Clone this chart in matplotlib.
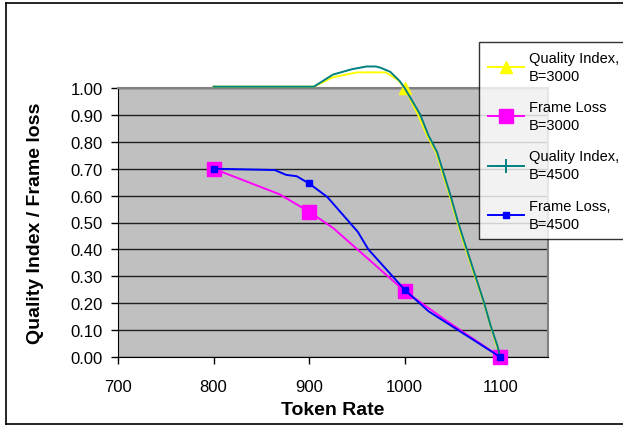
import matplotlib.pyplot as plt
from matplotlib.lines import Line2D

plt.rcParams['font.family'] = ['Liberation Sans', 'DejaVu Sans']

# Quality Index, B=3000
qi3000_x = [800, 905, 925, 950, 980, 993, 1000, 1014, 1024, 1033, 1048, 1056, 1065, 1083, 1090, 1100]
qi3000_y = [1.005, 1.005, 1.04, 1.058, 1.058, 1.03, 1.0, 0.90, 0.82, 0.76, 0.59, 0.49, 0.39, 0.20, 0.115, 0.0]

# Quality Index, B=4500
qi4500_x = [800, 905, 925, 945, 960, 970, 975, 985, 995, 1000, 1016, 1025, 1034, 1048, 1056, 1065, 1083, 1090, 1097, 1100]
qi4500_y = [1.005, 1.005, 1.05, 1.07, 1.08, 1.08, 1.075, 1.06, 1.025, 1.0, 0.903, 0.823, 0.761, 0.60, 0.50, 0.40, 0.203, 0.116, 0.042, 0.0]

# Frame Loss B=3000
fl3000_x = [800, 869, 900, 925, 1000, 1044, 1100]
fl3000_y = [0.70, 0.605, 0.54, 0.48, 0.245, 0.134, 0.0]

# Frame Loss, B=4500
fl4500_x = [800, 864, 876, 887, 900, 919, 951, 962, 1000, 1025, 1100]
fl4500_y = [0.70, 0.695, 0.677, 0.672, 0.645, 0.595, 0.465, 0.40, 0.25, 0.17, 0.0]

x_ticks = [700, 800, 900, 1000, 1100]
y_ticks = [0.0, 0.1, 0.2, 0.3, 0.4, 0.5, 0.6, 0.7, 0.8, 0.9, 1.0]

fig = plt.figure(figsize=(6.23, 4.27), dpi=100)
ax = fig.add_axes([118 / 623, 1 - 358 / 427, 430 / 623, 269 / 427])
ax.set_facecolor('#C0C0C0')

# outer chart border (left, top, bottom; right side runs off the picture)
for xs, ys in [([6, 6], [3.5, 425]), ([6, 623], [3.5, 3.5]), ([6, 623], [425, 425])]:
    fig.add_artist(Line2D([x / 623 for x in xs], [1 - y / 427 for y in ys],
                          transform=fig.transFigure, color='black', lw=1.2))

ax.plot(qi3000_x, qi3000_y, color='#FFFF00', lw=1.4, clip_on=False, zorder=3)
ax.plot([1000], [1.0], ls='none', marker='^', color='#FFFF00', ms=9, clip_on=False, zorder=4)
ax.plot(fl3000_x, fl3000_y, color='#FF00FF', lw=1.4, clip_on=False, zorder=3)
ax.plot([800, 900, 1000, 1100], [0.70, 0.54, 0.245, 0.0], ls='none', marker='s',
        color='#FF00FF', ms=9.5, clip_on=False, zorder=4)
ax.plot(qi4500_x, qi4500_y, color='#008080', lw=1.4, clip_on=False, zorder=5)
ax.plot(fl4500_x, fl4500_y, color='#0000FF', lw=1.4, clip_on=False, zorder=5)
ax.plot([800, 900, 1000, 1100], [0.70, 0.645, 0.25, 0.0], ls='none', marker='s',
        color='#0000FF', ms=5, clip_on=False, zorder=6)

ax.set_xlim(700, 1150)
ax.set_ylim(0, 1.0)
ax.set_xticks(x_ticks)
ax.set_yticks(y_ticks)
ax.set_yticklabels([f'{v:.2f}' for v in y_ticks])
ax.tick_params(labelsize=12, length=5, width=1, direction='out')
ax.tick_params(axis='x', pad=11)
ax.tick_params(axis='y', pad=6)
ax.grid(axis='y', color='#202020', lw=1)
ax.set_axisbelow(True)
for s in ['left', 'bottom']:
    ax.spines[s].set_color('black')
for s in ['top', 'right']:
    ax.spines[s].set_color('#808080')
    ax.spines[s].set_linewidth(1.5)

ax.set_xlabel('Token Rate', fontsize=14, fontweight='bold', labelpad=5)
ax.set_ylabel('Quality Index / Frame loss', fontsize=14, fontweight='bold', labelpad=19)

handles = [
    Line2D([], [], color='#FFFF00', marker='^', ms=9, lw=1.4),
    Line2D([], [], color='#FF00FF', marker='s', ms=9.5, lw=1.4),
    Line2D([], [], color='#008080', marker='+', ms=10, mew=1.4, lw=1.4),
    Line2D([], [], color='#0000FF', marker='s', ms=5, lw=1.4),
]
labels = ['Quality Index,\nB=3000', 'Frame Loss\nB=3000', 'Quality Index,\nB=4500', 'Frame Loss,\nB=4500']
leg = fig.legend(handles, labels, loc='upper left', bbox_to_anchor=(479 / 623, 1 - 43 / 427),
                 borderaxespad=0, fontsize=10.5, frameon=True, fancybox=False,
                 handlelength=2.5, labelspacing=1.2, borderpad=0.6, handletextpad=0.3)
for t in leg.get_texts():
    t.set_linespacing(1.35)
leg.get_frame().set_edgecolor('black')
leg.get_frame().set_linewidth(1)

fig.savefig('out.png', dpi=100)
